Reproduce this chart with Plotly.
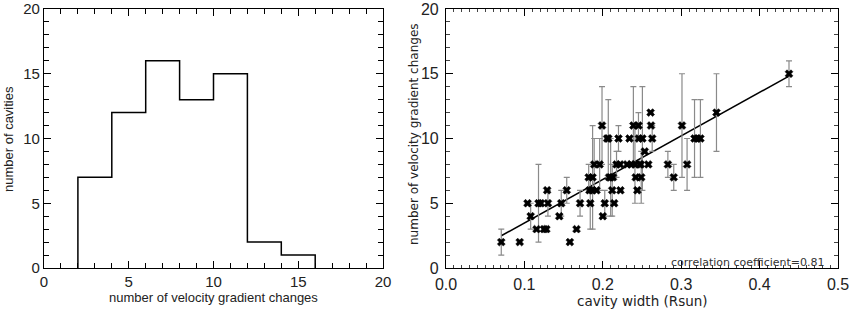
import plotly.graph_objects as go

# ---- left panel: histogram ----
bin_edges = [2, 4, 6, 8, 10, 12, 14, 16]
counts = [7, 12, 16, 13, 15, 2, 1]

# ---- right panel: scatter ----
width = [0.0705, 0.094, 0.104, 0.108, 0.1155, 0.118, 0.121, 0.125, 0.128, 0.129,
         0.130, 0.1445, 0.147, 0.154, 0.158, 0.1665, 0.171, 0.182, 0.183, 0.184,
         0.1865, 0.187, 0.189, 0.192, 0.196, 0.199, 0.200, 0.2025, 0.2055, 0.207,
         0.208, 0.210, 0.213, 0.212, 0.2145, 0.2175, 0.220, 0.222, 0.2225, 0.231,
         0.234, 0.2365, 0.239, 0.241, 0.242, 0.244, 0.2455, 0.246, 0.247, 0.2485,
         0.249, 0.2505, 0.2535, 0.258, 0.261, 0.2615, 0.263, 0.283, 0.2905, 0.301,
         0.3075, 0.317, 0.3205, 0.3245, 0.345, 0.4375]
changes = [2, 2, 5, 4, 3, 5, 5, 3, 3, 6,
           5, 4, 5, 6, 2, 3, 5, 7, 6, 5,
           6, 7, 8, 6, 8, 11, 4, 5, 10, 10,
           7, 7, 7, 6, 5, 8, 10, 8, 6, 8,
           10, 8, 11, 8, 7, 6, 11, 10, 8, 8,
           7, 10, 9, 8, 12, 11, 10, 8, 7, 11,
           8, 10, 10, 10, 12, 15]
errors = [1, 0, 0, 1, 0, 3, 0, 0, 0, 0,
          1, 0, 1, 1, 0, 0, 1, 1, 0, 2,
          0, 4, 2, 0, 2, 3, 0, 1, 0, 3,
          0, 3, 0, 2, 0, 1, 1, 0, 0, 0,
          0, 0, 3, 3, 0, 0, 1, 0, 0, 0,
          2, 4, 0, 0, 0, 0, 1, 1, 1, 4,
          2, 3, 0, 3, 3, 1]
fit_intercept = 0.12
fit_slope = 33.6
corr_text = "correlation coefficient=0.81"

W, H = 850, 309
def px(x):
    return x / W
def py(y):
    return 1 - y / H

fig = go.Figure()

# histogram as step line
hx = [bin_edges[0]] + bin_edges
hy = [0] + counts + [0]
fig.add_trace(go.Scatter(x=hx, y=hy, mode="lines", line=dict(color="black", width=1.5, shape="hv"),
                         xaxis="x", yaxis="y", showlegend=False, hoverinfo="skip"))

# fit line
fx = [min(width), max(width)]
fy = [fit_intercept + fit_slope * v for v in fx]
fig.add_trace(go.Scatter(x=fx, y=fy, mode="lines", line=dict(color="black", width=1.5),
                         xaxis="x2", yaxis="y2", showlegend=False))

# scatter with error bars
fig.add_trace(go.Scatter(x=width, y=changes, mode="markers",
                         marker=dict(symbol="x", size=7, color="black",
                                     line=dict(color="black", width=0.5)),
                         error_y=dict(type="data", array=errors, visible=True,
                                      color="#8a8a8a", thickness=1.2, width=3),
                         xaxis="x2", yaxis="y2", showlegend=False))
fig.add_trace(go.Scatter(x=width, y=changes, mode="markers",
                         marker=dict(symbol="square", size=4, color="black"),
                         xaxis="x2", yaxis="y2", showlegend=False, hoverinfo="skip"))

tickfont = dict(family="Liberation Sans, Arial, sans-serif", size=15, color="#222")
tickfont2 = dict(family="Liberation Sans, Arial, sans-serif", size=16, color="#222")
common = dict(showline=True, linecolor="black", linewidth=1.2, mirror="allticks",
              ticks="inside", ticklen=7, tickcolor="black", showgrid=False, zeroline=False,
              automargin=False)

fig.update_layout(
    width=W, height=H,
    margin=dict(l=0, r=0, t=0, b=0),
    paper_bgcolor="white", plot_bgcolor="white",
    xaxis=dict(domain=[px(44), px(383)], range=[0, 20], dtick=5, anchor="y", tickfont=tickfont,
               minor=dict(dtick=1, ticks="inside", ticklen=5, tickcolor="black"), **common),
    yaxis=dict(domain=[py(268), py(9)], range=[0, 20], dtick=5, anchor="x", tickfont=tickfont,
               minor=dict(dtick=1, ticks="inside", ticklen=5, tickcolor="black"), **common),
    xaxis2=dict(domain=[px(446), px(838)], range=[0, 0.5], dtick=0.1, tickformat=".1f", anchor="y2",
                tickfont=tickfont2, ticklabelstandoff=2,
                minor=dict(dtick=0.01, ticks="inside", ticklen=3, tickcolor="#444"), **common),
    yaxis2=dict(domain=[py(268), py(9)], range=[0, 20], dtick=5, anchor="x2",
                tickfont=tickfont2, ticklabelstandoff=3,
                minor=dict(dtick=1, ticks="inside", ticklen=4, tickcolor="#444"), **common),
)

tfont = dict(family="Liberation Sans, Arial, sans-serif", size=13, color="#222")
fig.add_annotation(text="number of velocity gradient changes", x=px(213), y=py(297), xref="paper", yref="paper",
                   showarrow=False, font=tfont, xanchor="center", yanchor="middle")
fig.add_annotation(text="number of cavities", x=px(8), y=py(139), xref="paper", yref="paper",
                   showarrow=False, font=tfont, textangle=-90, xanchor="center", yanchor="middle")
fig.add_annotation(text="cavity width (Rsun)", x=px(642), y=py(301), xref="paper", yref="paper",
                   showarrow=False, font=dict(family="DejaVu Sans, sans-serif", size=13.5, color="#222"),
                   xanchor="center", yanchor="middle")
fig.add_annotation(text="number of velocity gradient changes", x=px(414), y=py(134), xref="paper", yref="paper",
                   showarrow=False, font=dict(family="DejaVu Sans, sans-serif", size=12, color="#222"),
                   textangle=-90, xanchor="center", yanchor="middle")
fig.add_annotation(text=corr_text, x=px(827), y=py(262), xref="paper", yref="paper",
                   showarrow=False, font=dict(family="DejaVu Sans, sans-serif", size=11, color="#333"),
                   xanchor="right", yanchor="middle")

fig.write_html("out.html", config={"displayModeBar": False},
               post_script="document.body.style.margin='0';document.body.style.overflow='hidden';")
